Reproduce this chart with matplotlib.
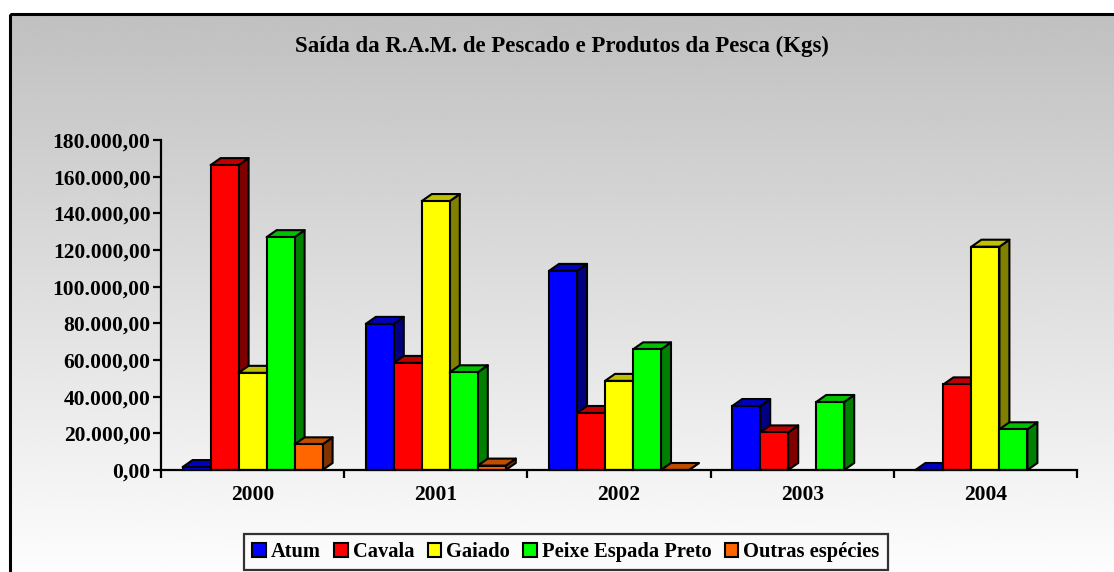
import numpy as np
import matplotlib
matplotlib.use("Agg")
import matplotlib.pyplot as plt
from matplotlib.patches import Polygon, Rectangle, Patch
from matplotlib.ticker import FuncFormatter, FixedLocator

plt.rcParams['font.family'] = ['Liberation Serif', 'DejaVu Serif']
plt.rcParams['font.weight'] = 'bold'

# ---------------- data ----------------
categories = ['2000', '2001', '2002', '2003', '2004']
series_names = ['Atum', 'Cavala', 'Gaiado', 'Peixe Espada Preto', 'Outras espécies']
atum = [1600, 79700, 108600, 34900, 0]
cavala = [166300, 58400, 31100, 20500, 46700]
gaiado = [53000, 146700, 48600, np.nan, 121800]
peixe_espada = [127000, 53300, 65800, 37100, 22200]
outras = [14000, 2400, 0, np.nan, np.nan]
series_values = [atum, cavala, gaiado, peixe_espada, outras]
y_ticks = list(range(0, 180001, 20000))
title = 'Saída da R.A.M. de Pescado e Produtos da Pesca (Kgs)'

front_colors = ['#0000FF', '#FF0000', '#FFFF00', '#00FF00', '#FF6600']
top_colors = ['#0000C0', '#C00000', '#C0C000', '#00C000', '#C04C00']
side_colors = ['#000080', '#800000', '#808000', '#008000', '#7F3300']

W, H = 1114, 572
fig = plt.figure(figsize=(W / 100, H / 100), dpi=100)

# background gradient inside the outer frame
bg = fig.add_axes([0, 0, 1, 1], zorder=-10)
bg.set_xlim(0, W)
bg.set_ylim(H, 0)
bg.axis('off')
grad = np.linspace(0.753, 0.995, 256).reshape(-1, 1)
bg.imshow(grad, cmap='gray', vmin=0, vmax=1, aspect='auto',
          extent=(10, W + 5, H + 5, 14), interpolation='bicubic')
bg.add_patch(Rectangle((10, 14), W, H, fill=False, edgecolor='black', lw=2.2))

# main axes
left_px, right_px, top_px, bot_px = 161, 1077, 140, 470
ax = fig.add_axes([left_px / W, 1 - bot_px / H, (right_px - left_px) / W, (bot_px - top_px) / H])
ax.set_facecolor('none')
ax.set_xlim(0, len(categories))
ax.set_ylim(0, 180000)
for s in ['top', 'right']:
    ax.spines[s].set_visible(False)
for s in ['left', 'bottom']:
    ax.spines[s].set_linewidth(1.6)
    ax.spines[s].set_zorder(50)

# pixel -> data depth offsets
px_x = (right_px - left_px) / len(categories)
px_y = (bot_px - top_px) / 180000
ddx = 10 / px_x
ddy = 7 / px_y

bw = 28 / px_x
nser = len(series_values)
for i, vals in enumerate(series_values):
    xs = np.arange(len(categories)) + 0.5 + (i - (nser - 1) / 2) * bw
    v = np.array(vals, dtype=float)
    bars = ax.bar(xs, np.nan_to_num(v), width=bw, color=front_colors[i],
                  edgecolor='black', linewidth=1.5, clip_on=False)
    for j, (b, val) in enumerate(zip(bars, v)):
        z = 2 + j * 1.0 + i * 0.1
        b.set_zorder(z + 0.05)
        if np.isnan(val):
            b.set_visible(False)
            continue
        x0 = xs[j] - bw / 2
        x1 = xs[j] + bw / 2
        h = val
        top = Polygon([(x0, h), (x1, h), (x1 + ddx, h + ddy), (x0 + ddx, h + ddy)],
                      closed=True, facecolor=top_colors[i], edgecolor='black',
                      lw=1.5, zorder=z, clip_on=False, joinstyle='round')
        side = Polygon([(x1, 0), (x1 + ddx, ddy), (x1 + ddx, h + ddy), (x1, h)],
                       closed=True, facecolor=side_colors[i], edgecolor='black',
                       lw=1.5, zorder=z, clip_on=False, joinstyle='round')
        ax.add_patch(side)
        ax.add_patch(top)
        if h == 0:
            b.set_visible(False)
            ax.plot([x0, x1], [0, 0], color='black', lw=1.5, zorder=z + 0.05, clip_on=False)

# ticks
def fmt(v, pos):
    s = f"{v:,.2f}"
    return s.replace(',', 'X').replace('.', ',').replace('X', '.')

ax.yaxis.set_major_locator(FixedLocator(y_ticks))
ax.yaxis.set_major_formatter(FuncFormatter(fmt))
ax.tick_params(axis='y', direction='out', length=6, width=1.6, pad=1.5, labelsize=15.5)
ax.set_xticks(np.arange(len(categories)) + 0.5)
ax.set_xticklabels(categories)
ax.set_xticks(np.arange(len(categories) + 1), minor=True)
ax.tick_params(axis='x', which='major', length=0, pad=11, labelsize=15.5)
ax.tick_params(axis='x', which='minor', direction='out', length=6, width=1.6)
for lab in ax.get_xticklabels() + ax.get_yticklabels():
    lab.set_fontweight('bold')

fig.text(562 / W, 1 - 46 / H, title, ha='center', va='center',
         fontsize=16.5, fontweight='bold')

handles = [Patch(facecolor=c, edgecolor='black', lw=1.5) for c in front_colors]
leg = fig.legend(handles, series_names, loc='center', bbox_to_anchor=(566 / W, 1 - 552 / H),
                 ncol=5, frameon=True, fancybox=False, edgecolor='black',
                 prop={'weight': 'bold', 'size': 14.8}, handlelength=0.65, handleheight=0.65,
                 handletextpad=0.25, columnspacing=0.65, borderpad=0.4, borderaxespad=0)
leg.get_frame().set_linewidth(1.6)
leg.get_frame().set_facecolor('#FBFBFB')

fig.savefig('out.png', dpi=100)
